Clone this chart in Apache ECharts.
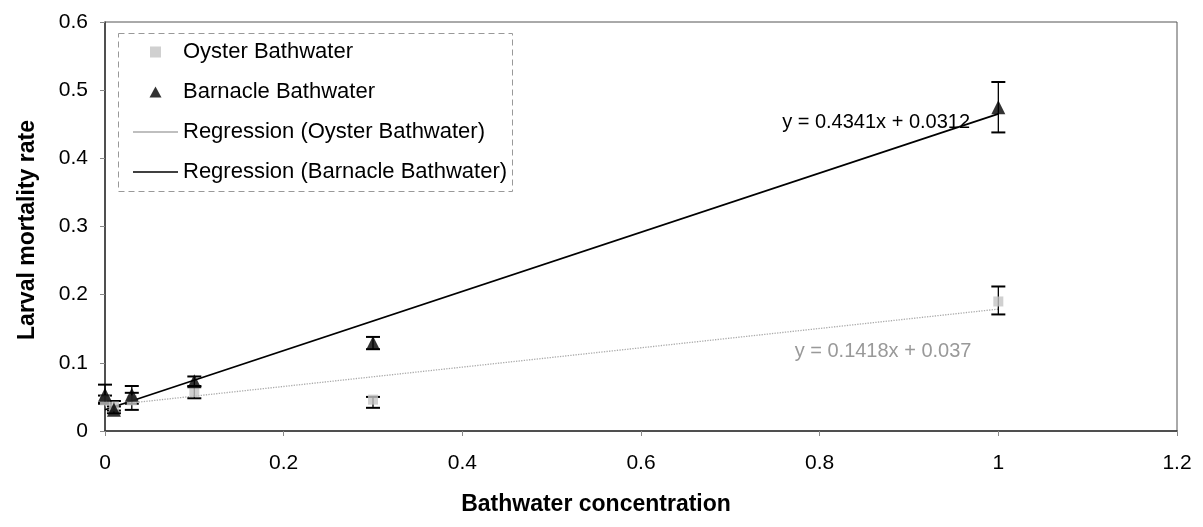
<!DOCTYPE html>
<html>
<head>
<meta charset="utf-8">
<script src="https://cdn.jsdelivr.net/npm/echarts@6/dist/echarts.min.js"></script>
<style>
  html, body { margin: 0; padding: 0; background: #fff; }
  #chart { width: 1203px; height: 527px; }
</style>
</head>
<body>
<div id="chart"></div>
<script>
  // concentrations
  var conc = [0, 0.01, 0.03, 0.1, 0.3, 1]
  // oyster bathwater
  var oyster = [0.045, 0.036, 0.045, 0.057, 0.046, 0.19]
  var oysterLow = [0.040, 0.030, 0.031, 0.048, 0.034, 0.171]
  var oysterHigh = [0.052, 0.044, 0.056, 0.065, 0.050, 0.212]
  // barnacle bathwater
  var barnacle = [0.053, 0.031, 0.053, 0.073, 0.129, 0.475]
  var barnacleLow = [0.041, 0.026, 0.040, 0.066, 0.120, 0.438]
  var barnacleHigh = [0.068, 0.036, 0.066, 0.080, 0.138, 0.512]
  // regression: slope, intercept
  var oysterFit = [0.1418, 0.037]
  var barnacleFit = [0.4341, 0.0312]
  var fitRange = [0, 1]
  var xTicks = [0, 1.2, 0.2]
  var yTicks = [0, 0.6, 0.1]

  var font = 'Liberation Sans, Arial, sans-serif'

  function pairs(xs, ys){
    return xs.map(function(x, i){ return [x, ys[i]] })
  }
  function bars(xs, lo, hi){
    return xs.map(function(x, i){ return [x, lo[i], hi[i]] })
  }
  function fitLine(fit){
    return fitRange.map(function(x){ return [x, fit[0] * x + fit[1]] })
  }

  //误差线
  function errorItem(params, api){
    var x = api.value(0)
    var p1 = api.coord([x, api.value(1)])
    var p2 = api.coord([x, api.value(2)])
    var w = 7
    var st = { stroke: '#000', lineWidth: 2 }
    return {
      type: 'group',
      children: [
        { type: 'line', shape: { x1: p1[0], y1: p1[1], x2: p2[0], y2: p2[1] }, style: { stroke: '#000', lineWidth: 1.3 } },
        { type: 'line', shape: { x1: p1[0] - w, y1: p1[1], x2: p1[0] + w, y2: p1[1] }, style: st },
        { type: 'line', shape: { x1: p2[0] - w, y1: p2[1], x2: p2[0] + w, y2: p2[1] }, style: st }
      ]
    }
  }

  var lineIcon = 'path://M0,0L45,0L45,1.4L0,1.4Z'
  var squareIcon = 'path://M0,0L10,0L10,10L0,10Z'
  var triIcon = 'path://M6,0L12,11L0,11Z'

  var chart = echarts.init(document.getElementById('chart'))
  var option = {
    animation: false,
    textStyle: { fontFamily: font },
    grid: {
      left: 105, right: 26, top: 22, bottom: 96,
      show: true, borderColor: '#555', borderWidth: 1
    },
    legend: {
      orient: 'vertical',
      left: 128, top: 36,
      itemWidth: 45, itemHeight: 11, itemGap: 18,
      symbolKeepAspect: true,
      textStyle: { fontFamily: font, fontSize: 22, color: '#000' },
      data: [
        { name: 'Oyster Bathwater', icon: squareIcon, itemStyle: { color: '#c4c4c4' } },
        { name: 'Barnacle Bathwater', icon: triIcon, itemStyle: { color: '#000' } },
        { name: 'Regression (Oyster Bathwater)', icon: lineIcon, itemStyle: { color: '#aaa' } },
        { name: 'Regression (Barnacle Bathwater)', icon: lineIcon, itemStyle: { color: '#000' } }
      ]
    },
    xAxis: {
      type: 'value', min: xTicks[0], max: xTicks[1], interval: xTicks[2],
      axisLine: { lineStyle: { color: '#333', width: 1.5 } },
      axisTick: { show: true, inside: false, length: 5, lineStyle: { color: '#888' } },
      axisLabel: { fontSize: 21, color: '#000', margin: 22, fontFamily: font },
      splitLine: { show: false }
    },
    yAxis: {
      type: 'value', min: yTicks[0], max: yTicks[1], interval: yTicks[2],
      axisLine: { show: true, lineStyle: { color: '#333', width: 1.5 } },
      axisTick: { show: true, inside: false, length: 5, lineStyle: { color: '#888' } },
      axisLabel: { fontSize: 21, color: '#000', margin: 17, fontFamily: font },
      splitLine: { show: false }
    },
    series: [
      {
        name: 'Regression (Oyster Bathwater)', type: 'line',
        data: fitLine(oysterFit), symbol: 'none',
        lineStyle: { color: '#aaa', width: 1.3, type: 'dotted' },
        itemStyle: { color: '#aaa' },
        z: 2
      },
      {
        name: 'Regression (Barnacle Bathwater)', type: 'line',
        data: fitLine(barnacleFit), symbol: 'none',
        lineStyle: { color: '#000', width: 1.8 },
        itemStyle: { color: '#000' },
        z: 2
      },
      {
        name: 'oyster-err', type: 'custom', renderItem: errorItem,
        data: bars(conc, oysterLow, oysterHigh), z: 3
      },
      {
        name: 'barnacle-err', type: 'custom', renderItem: errorItem,
        data: bars(conc, barnacleLow, barnacleHigh), z: 3
      },
      {
        name: 'Oyster Bathwater', type: 'scatter',
        data: pairs(conc, oyster), symbol: 'rect', symbolSize: 10,
        itemStyle: { color: '#c4c4c4' }, z: 4
      },
      {
        name: 'Barnacle Bathwater', type: 'scatter',
        data: pairs(conc, barnacle), symbol: 'triangle', symbolSize: 14,
        itemStyle: { color: '#000' }, z: 5
      }
    ]
  }
  chart.setOption(option)

  //方程标注 + 图例框 + 轴标题
  var p1 = chart.convertToPixel({ gridIndex: 0 }, [0.758, 0.453])
  var p2 = chart.convertToPixel({ gridIndex: 0 }, [0.772, 0.117])
  chart.setOption({
    graphic: [
      {
        type: 'rect', left: 116, top: 31,
        shape: { width: 394, height: 158 },
        style: { fill: null, stroke: '#999', lineWidth: 1, lineDash: [6, 4] },
        z: 1
      },
      {
        type: 'text', x: p1[0], y: p1[1],
        style: { text: 'y = 0.4341x + 0.0312', font: '20px ' + font, fill: '#000', textVerticalAlign: 'middle' }
      },
      {
        type: 'text', x: p2[0], y: p2[1],
        style: { text: 'y = 0.1418x + 0.037', font: '20px ' + font, fill: '#999', textVerticalAlign: 'middle' }
      },
      {
        type: 'text', x: 596, y: 505,
        style: { text: 'Bathwater concentration', font: 'bold 23px ' + font, fill: '#000', textAlign: 'center', textVerticalAlign: 'middle' }
      },
      {
        type: 'text', x: 28, y: 230, rotation: Math.PI / 2,
        style: { text: 'Larval mortality rate', font: 'bold 23px ' + font, fill: '#000', textAlign: 'center', textVerticalAlign: 'middle' }
      }
    ]
  })
</script>
</body>
</html>
